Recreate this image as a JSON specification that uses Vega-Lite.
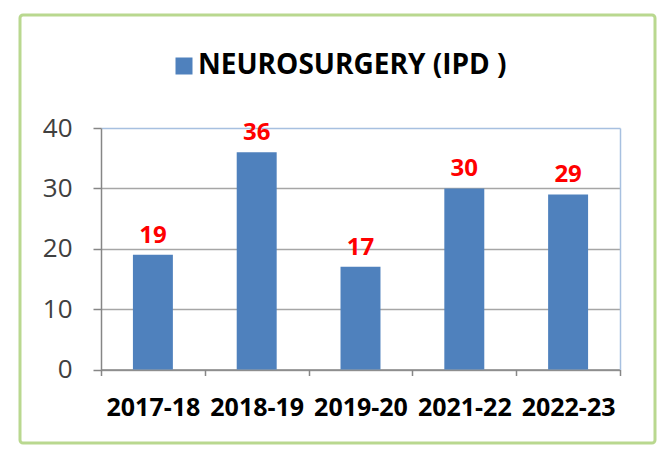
{
  "$schema": "https://vega.github.io/schema/vega-lite/v6.json",
  "width": 635,
  "height": 428,
  "autosize": {"type": "none"},
  "padding": {"left": 20, "top": 15, "right": 6, "bottom": 7},
  "background": "#ffffff",
  "config": {
    "view": {"fill": "#ffffff", "stroke": "#b9d88f", "strokeWidth": 3, "cornerRadius": 3},
    "font": "Open Sans"
  },
  "data": {
    "values": [
      {"year": "2017-18", "cases": 19, "series": "NEUROSURGERY (IPD )"},
      {"year": "2018-19", "cases": 36, "series": "NEUROSURGERY (IPD )"},
      {"year": "2019-20", "cases": 17, "series": "NEUROSURGERY (IPD )"},
      {"year": "2021-22", "cases": 30, "series": "NEUROSURGERY (IPD )"},
      {"year": "2022-23", "cases": 29, "series": "NEUROSURGERY (IPD )"}
    ]
  },
  "encoding": {
    "x": {
      "field": "year",
      "type": "nominal",
      "sort": null,
      "scale": {"type": "band", "paddingInner": 0, "paddingOuter": 0, "range": [81, 600]},
      "axis": {
        "title": null,
        "orient": "bottom",
        "offset": -73.5,
        "labelAngle": 0,
        "labelOverlap": false,
        "labelFont": "Open Sans",
        "labelFontWeight": "bold",
        "labelFontSize": 25,
        "labelColor": "#000000",
        "labelPadding": 20,
        "tickBand": "extent",
        "tickSize": 6,
        "tickColor": "#868686",
        "tickWidth": 1.5,
        "domainColor": "#868686",
        "domainWidth": 1.5,
        "grid": false
      }
    }
  },
  "layer": [
    {
      "mark": {"type": "bar", "width": {"band": 0.385}},
      "encoding": {
        "y": {
          "field": "cases",
          "type": "quantitative",
          "scale": {"domain": [0, 40], "nice": false, "zero": true, "range": [354.5, 113]},
          "axis": {
            "title": null,
            "orient": "left",
            "offset": -81,
            "values": [0, 10, 20, 30, 40],
            "labelFont": "Open Sans",
            "labelFontSize": 26,
            "labelColor": "#404040",
            "labelPadding": 21,
            "tickSize": 8,
            "tickColor": "#868686",
            "tickWidth": 1.5,
            "domainColor": "#868686",
            "domainWidth": 1.5,
            "grid": true,
            "gridWidth": 1.5,
            "gridColor": {"condition": {"test": "datum.value == 40", "value": "#a7c0e0"}, "value": "#a6a6a6"}
          }
        },
        "color": {
          "field": "series",
          "type": "nominal",
          "scale": {"range": ["#4f81bd"]},
          "legend": {
            "title": null,
            "orient": "none",
            "legendX": 150,
            "legendY": 37,
            "padding": 0,
            "symbolType": "square",
            "symbolSize": 289,
            "symbolStrokeWidth": 0,
            "labelFont": "Open Sans",
            "labelFontSize": 28,
            "labelFontWeight": "bold",
            "labelColor": "#000000",
            "labelOffset": 0,
            "labelLimit": 600
          }
        }
      }
    },
    {
      "mark": {"type": "text", "color": "#ff0000", "font": "Open Sans", "fontWeight": "bold", "fontSize": 24, "baseline": "alphabetic", "dy": -12},
      "encoding": {
        "y": {
          "field": "cases",
          "type": "quantitative",
          "scale": {"domain": [0, 40], "nice": false, "zero": true, "range": [354.5, 113]},
          "axis": {
            "title": null,
            "orient": "right",
            "offset": -35,
            "labels": false,
            "ticks": false,
            "grid": false,
            "domainColor": "#a7c0e0",
            "domainWidth": 1.5
          }
        },
        "text": {"field": "cases", "type": "quantitative"}
      }
    }
  ],
  "resolve": {"axis": {"y": "independent"}}
}
